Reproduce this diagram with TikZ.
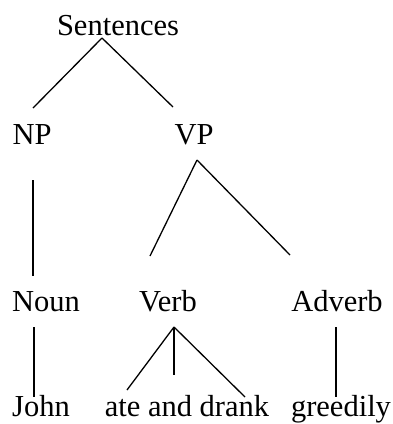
\documentclass[tikz,border=0pt]{standalone}
\usepackage{fontspec}
\setmainfont{Liberation Serif}
\usetikzlibrary{calc}
\begin{document}
\begin{tikzpicture}[x=1pt,y=-1pt,
  lbl/.style={anchor=base,inner sep=0pt,font=\fontsize{30.5}{36}\selectfont},
  edge/.style={line width=1.3pt}]
\useasboundingbox (0,0) rectangle (393,424);
\node[lbl] (s) at (118,35) {Sentences};
\node[lbl] (np) at (32,144) {NP};
\node[lbl] (vp) at (194,144) {VP};
\node[lbl] (noun) at (46,311) {Noun};
\node[lbl] (verb) at (168,311) {Verb};
\node[lbl] (adv) at (337,311) {Adverb};
\node[lbl] (john) at (41,416) {John};
\node[lbl] (ate) at (187,416) {ate and drank};
\node[lbl] (gr) at (341,416) {greedily};
\draw[edge] ($(s.base)+(-16,3)$) -- ($(np.base)+(1,-36)$);
\draw[edge] ($(s.base)+(-16,3)$) -- ($(vp.base)+(-21,-37)$);
\draw[edge] ($(np.base)+(1,36)$) -- ($(noun.base)+(-13,-35)$);
\draw[edge] ($(vp.base)+(3,16)$) -- ($(verb.base)+(-18,-55)$);
\draw[edge] ($(vp.base)+(3,16)$) -- ($(adv.base)+(-47,-56)$);
\draw[edge] ($(noun.base)+(-12,16)$) -- ($(john.base)+(-7,-19)$);
\draw[edge] ($(verb.base)+(6,16)$) -- ($(ate.base)+(-60,-26)$);
\draw[edge] ($(verb.base)+(6,16)$) -- ($(ate.base)+(-13,-41)$);
\draw[edge] ($(verb.base)+(6,16)$) -- ($(ate.base)+(58,-19)$);
\draw[edge] ($(adv.base)+(-1,16)$) -- ($(gr.base)+(-5,-19)$);
\end{tikzpicture}
\end{document}
